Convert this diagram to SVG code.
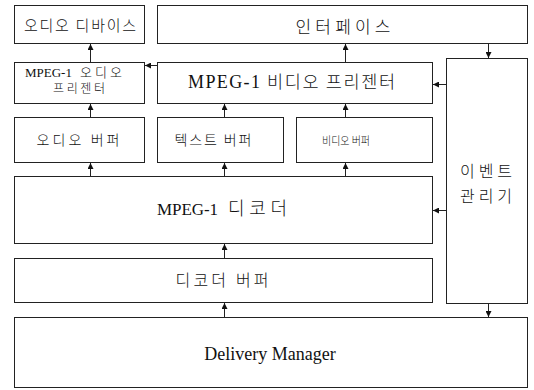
<svg xmlns="http://www.w3.org/2000/svg" width="534" height="390" viewBox="0 0 534 390">
  <style>
    .box { fill: #ffffff; stroke: #222222; stroke-width: 1; }
    .lat { font-family: "Liberation Serif", serif; fill: #111111; }
    .ko { font-family: "Noto Sans CJK KR", "Liberation Sans", sans-serif; font-weight: 300; fill: #111111; }
    .mid { text-anchor: middle; }
    .conn { stroke: #222222; stroke-width: 1; fill: none; marker-end: url(#arrow); }
  </style>
  <defs>
    <marker id="arrow" viewBox="0 0 6 6" refX="6" refY="3" markerWidth="6" markerHeight="6" markerUnits="userSpaceOnUse" orient="auto">
      <path d="M0,0 L6,3 L0,6 z" fill="#111111"/>
    </marker>
  </defs>
  <rect width="534" height="390" fill="#ffffff"/>

  <g id="audio-device">
    <rect class="box" x="14.5" y="5.5" width="130" height="38"/>
    <text class="ko mid" x="80" y="31" font-size="15" textLength="112" lengthAdjust="spacing">오디오 디바이스</text>
  </g>
  <g id="interface">
    <rect class="box" x="157.5" y="5.5" width="370" height="38"/>
    <text class="ko mid" x="343" y="33" font-size="17" textLength="95" lengthAdjust="spacing">인터페이스</text>
  </g>
  <g id="audio-presenter">
    <rect class="box" x="14.5" y="62.5" width="130" height="41"/>
    <text class="lat" x="25" y="77" font-size="13">MPEG-1</text>
    <text class="ko" x="80" y="77" font-size="13" textLength="42" lengthAdjust="spacing">오디오</text>
    <text class="ko" x="53" y="93" font-size="12" textLength="52" lengthAdjust="spacing">프리젠터</text>
  </g>
  <g id="video-presenter">
    <rect class="box" x="157.5" y="62.5" width="275" height="41"/>
    <text class="lat" x="188" y="88" font-size="18" textLength="72" lengthAdjust="spacing">MPEG-1</text>
    <text class="ko" x="267" y="88" font-size="17.5" textLength="128" lengthAdjust="spacing">비디오 프리젠터</text>
  </g>
  <g id="event-manager">
    <rect class="box" x="446.5" y="58.5" width="81" height="245"/>
    <text class="ko mid" x="486" y="177" font-size="16" textLength="52" lengthAdjust="spacing">이벤트</text>
    <text class="ko mid" x="486" y="202" font-size="16" textLength="52" lengthAdjust="spacing">관리기</text>
  </g>
  <g id="audio-buffer">
    <rect class="box" x="14.5" y="117.5" width="130" height="45"/>
    <text class="ko mid" x="78" y="145" font-size="14" textLength="83" lengthAdjust="spacing">오디오 버퍼</text>
  </g>
  <g id="text-buffer">
    <rect class="box" x="157.5" y="117.5" width="126" height="45"/>
    <text class="ko mid" x="213" y="145" font-size="14" textLength="77" lengthAdjust="spacing">텍스트 버퍼</text>
  </g>
  <g id="video-buffer">
    <rect class="box" x="296.5" y="117.5" width="136" height="45"/>
    <text class="ko mid" x="346" y="145" font-size="11" textLength="48" lengthAdjust="spacingAndGlyphs">비디오 버퍼</text>
  </g>
  <g id="decoder">
    <rect class="box" x="14.5" y="176.5" width="418" height="67"/>
    <text class="lat" x="157" y="215" font-size="17" textLength="61" lengthAdjust="spacing">MPEG-1</text>
    <text class="ko" x="228" y="215" font-size="18" textLength="59" lengthAdjust="spacing">디코더</text>
  </g>
  <g id="decoder-buffer">
    <rect class="box" x="14.5" y="258.5" width="418" height="44"/>
    <text class="ko mid" x="222" y="286" font-size="16" textLength="93" lengthAdjust="spacing">디코더 버퍼</text>
  </g>
  <g id="delivery-manager">
    <rect class="box" x="14.5" y="317.5" width="513" height="70"/>
    <text class="lat mid" x="270" y="360" font-size="18">Delivery Manager</text>
  </g>

  <g id="connectors">
    <line class="conn" x1="90.5" y1="62" x2="90.5" y2="44"/>
    <line class="conn" x1="157" y1="65.5" x2="145" y2="65.5"/>
    <line class="conn" x1="345.5" y1="62" x2="345.5" y2="44"/>
    <line class="conn" x1="488.5" y1="44" x2="488.5" y2="58"/>
    <line class="conn" x1="446" y1="84.5" x2="433" y2="84.5"/>
    <line class="conn" x1="90.5" y1="117" x2="90.5" y2="104"/>
    <line class="conn" x1="224.5" y1="117" x2="224.5" y2="104"/>
    <line class="conn" x1="345.5" y1="117" x2="345.5" y2="104"/>
    <line class="conn" x1="90.5" y1="176" x2="90.5" y2="163"/>
    <line class="conn" x1="224.5" y1="176" x2="224.5" y2="163"/>
    <line class="conn" x1="345.5" y1="176" x2="345.5" y2="163"/>
    <line class="conn" x1="446" y1="210.5" x2="433" y2="210.5"/>
    <line class="conn" x1="224.5" y1="258" x2="224.5" y2="244"/>
    <line class="conn" x1="224.5" y1="317" x2="224.5" y2="303"/>
    <line class="conn" x1="488.5" y1="304" x2="488.5" y2="317"/>
  </g>
</svg>
